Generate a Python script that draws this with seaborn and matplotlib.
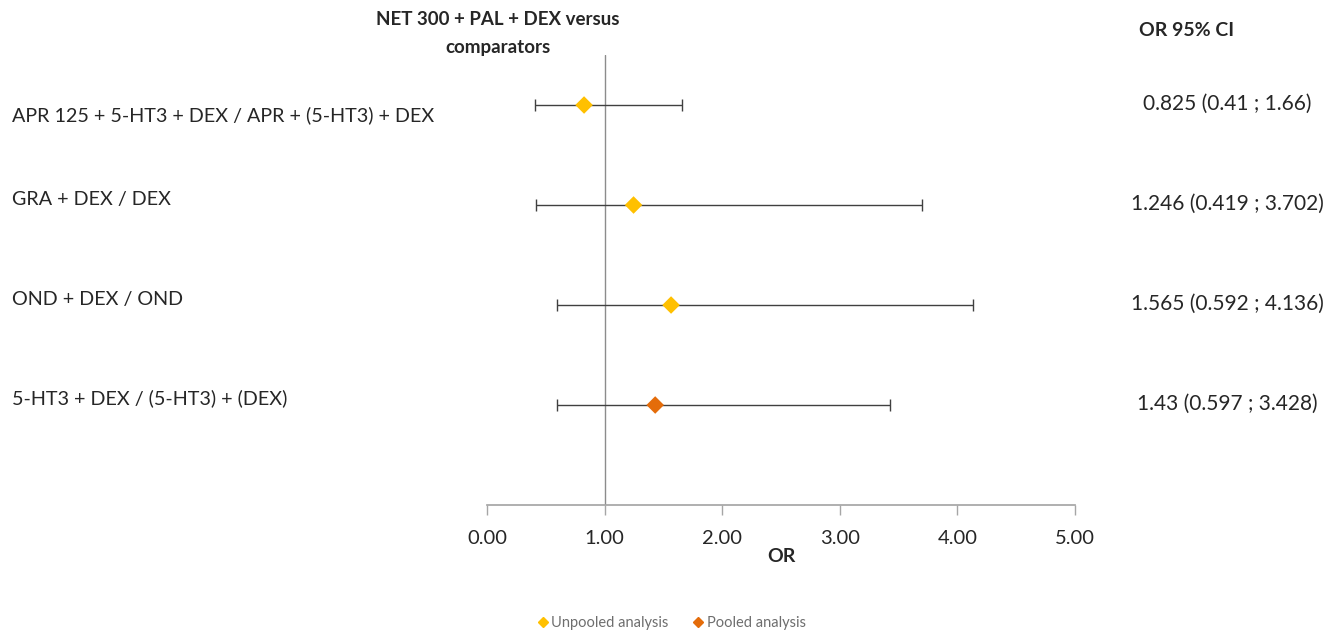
import matplotlib
matplotlib.use("Agg")
import matplotlib.pyplot as plt
import seaborn as sns
import pandas as pd
from matplotlib.lines import Line2D

comparisons = [
    "APR 125 + 5-HT3 + DEX / APR + (5-HT3) + DEX",
    "GRA + DEX / DEX",
    "OND + DEX / OND",
    "5-HT3 + DEX / (5-HT3) + (DEX)",
]
or_values = [0.825, 1.246, 1.565, 1.43]
ci_low = [0.41, 0.419, 0.592, 0.597]
ci_high = [1.66, 3.702, 4.136, 3.428]
analysis = ["Unpooled analysis", "Unpooled analysis", "Unpooled analysis", "Pooled analysis"]
ci_labels = ["0.825 (0.41 ; 1.66)", "1.246 (0.419 ; 3.702)", "1.565 (0.592 ; 4.136)", "1.43 (0.597 ; 3.428)"]
x_ticks = [0, 1, 2, 3, 4, 5]

sns.set_theme(style="white")
plt.rcParams['font.family'] = ['Lato', 'DejaVu Sans']

df = pd.DataFrame({"comp": comparisons, "OR": or_values, "lo": ci_low, "hi": ci_high,
                   "analysis": analysis, "row": range(1, len(comparisons) + 1)})

W, H = 1341, 633
fig = plt.figure(figsize=(W / 100, H / 100), dpi=100)
ax = fig.add_axes([0.3632, 0.2022, 0.4384, 0.7109])

palette = {"Unpooled analysis": "#FFC000", "Pooled analysis": "#E46C0A"}

ax.errorbar(df["OR"], df["row"], xerr=[df["OR"] - df["lo"], df["hi"] - df["OR"]],
            fmt="none", ecolor="#404040", elinewidth=1.0, capsize=4, capthick=1.0, zorder=2)
sns.scatterplot(data=df, x="OR", y="row", hue="analysis", palette=palette, marker="D",
                s=80, edgecolor="none", ax=ax, legend=False, zorder=3)
ax.axvline(1, color="#8c8c8c", lw=1.0, zorder=1)

ax.set_xlim(0, 5)
ax.set_ylim(5, 0.5)
ax.set_xticks(x_ticks)
ax.set_xticklabels([f"{t:.2f}" for t in x_ticks], fontsize=14.5)
ax.set_yticks([])
ax.set_ylabel("")
ax.set_xlabel("OR", fontsize=14, fontweight="bold", labelpad=1)
for s in ["top", "right", "left"]:
    ax.spines[s].set_visible(False)
ax.spines["bottom"].set_color("#a6a6a6")
ax.tick_params(axis="x", bottom=True, direction="out", length=7, color="#a6a6a6", width=1, pad=11)

# vertical pixel offsets of the row labels relative to their rows (layout only)
label_shift_px = [10, -6, -6, -7]
for r, lab, cl, dy in zip(df["row"], df["comp"], ci_labels, label_shift_px):
    y_fig = ax.transData.transform((0, r))[1] / fig.bbox.height
    fig.text(12 / W, y_fig - dy / H, lab, fontsize=14.2, ha="left", va="center")
    fig.text(0.9155, y_fig + 0.002, cl, fontsize=15, ha="center", va="center")

fig.text(0.371, 0.947, "NET 300 + PAL + DEX versus\ncomparators", fontsize=13.5,
         fontweight="bold", ha="center", va="center", linespacing=1.75)
fig.text(0.885, 0.952, "OR 95% CI", fontsize=14, fontweight="bold", ha="center", va="center")

handles = [Line2D([], [], marker="D", ls="none", color=palette[k], markersize=5) for k in palette]
leg = fig.legend(handles, list(palette.keys()), loc="center", bbox_to_anchor=(0.5, 0.016),
                 ncol=2, frameon=False, fontsize=10.5, handletextpad=0.1, columnspacing=1.5,
                 handlelength=1)
for t in leg.get_texts():
    t.set_color("#6e6e6e")

fig.savefig("out.png", dpi=100)
